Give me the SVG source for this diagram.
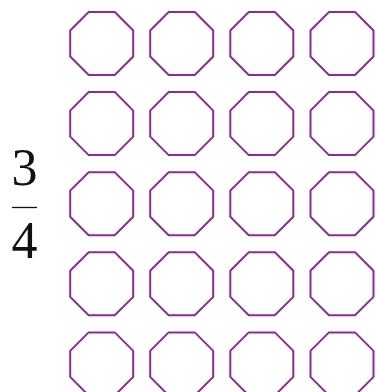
<svg xmlns="http://www.w3.org/2000/svg" xmlns:xlink="http://www.w3.org/1999/xlink" width="376" height="392" viewBox="0 0 376 392">
<defs>
<style>
.oct{fill:none;stroke:#8E2A93;stroke-width:2;stroke-linejoin:miter}
.num{font-family:"Liberation Serif","DejaVu Serif",serif;font-size:52px;fill:#111;text-anchor:middle}
</style>
<polygon id="o" class="oct" points="-13.05,-31.5 13.05,-31.5 31.5,-13.05 31.5,13.05 13.05,31.5 -13.05,31.5 -31.5,13.05 -31.5,-13.05"/>
</defs>
<rect width="376" height="392" fill="#fff"/>
<g id="fraction">
<text class="num" x="24.5" y="185">3</text>
<line x1="12" y1="207.5" x2="37" y2="207.5" stroke="#111" stroke-width="1.3"/>
<text class="num" x="24.5" y="258">4</text>
</g>
<g id="connectors"/>
<g id="n11"><use xlink:href="#o" x="101.7" y="43.5"/></g>
<g id="n12"><use xlink:href="#o" x="181.7" y="43.5"/></g>
<g id="n13"><use xlink:href="#o" x="261.8" y="43.5"/></g>
<g id="n14"><use xlink:href="#o" x="342" y="43.5"/></g>
<g id="n21"><use xlink:href="#o" x="101.7" y="123.6"/></g>
<g id="n22"><use xlink:href="#o" x="181.7" y="123.6"/></g>
<g id="n23"><use xlink:href="#o" x="261.8" y="123.6"/></g>
<g id="n24"><use xlink:href="#o" x="342" y="123.6"/></g>
<g id="n31"><use xlink:href="#o" x="101.7" y="203.7"/></g>
<g id="n32"><use xlink:href="#o" x="181.7" y="203.7"/></g>
<g id="n33"><use xlink:href="#o" x="261.8" y="203.7"/></g>
<g id="n34"><use xlink:href="#o" x="342" y="203.7"/></g>
<g id="n41"><use xlink:href="#o" x="101.7" y="283.8"/></g>
<g id="n42"><use xlink:href="#o" x="181.7" y="283.8"/></g>
<g id="n43"><use xlink:href="#o" x="261.8" y="283.8"/></g>
<g id="n44"><use xlink:href="#o" x="342" y="283.8"/></g>
<g id="n51"><use xlink:href="#o" x="101.7" y="363.9"/></g>
<g id="n52"><use xlink:href="#o" x="181.7" y="363.9"/></g>
<g id="n53"><use xlink:href="#o" x="261.8" y="363.9"/></g>
<g id="n54"><use xlink:href="#o" x="342" y="363.9"/></g>
</svg>
